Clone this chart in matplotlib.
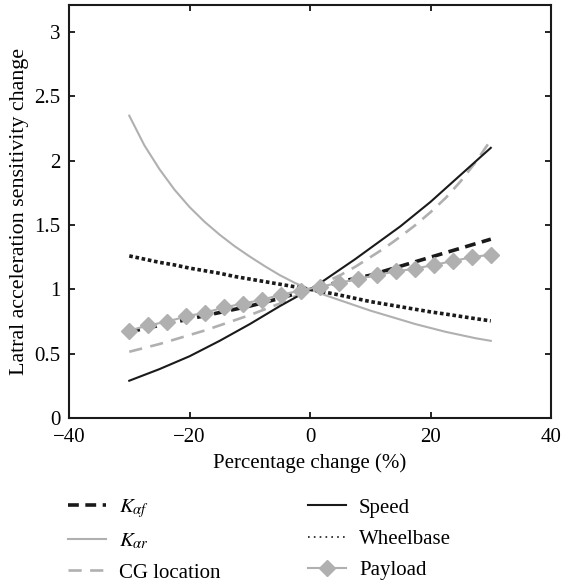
import matplotlib
matplotlib.use("Agg")
import matplotlib.pyplot as plt
from matplotlib.ticker import MultipleLocator, FuncFormatter
from matplotlib.lines import Line2D

plt.rcParams['font.family'] = ['Liberation Serif', 'DejaVu Serif']
plt.rcParams['mathtext.fontset'] = 'stix'
plt.rcParams['font.size'] = 15

# data
pct = [-30, -27.5, -25, -22.5, -20, -17.5, -15, -12.5, -10, -7.5, -5, -2.5, 0,
       2.5, 5, 7.5, 10, 12.5, 15, 17.5, 20, 22.5, 25, 27.5, 30]
k_af = [0.67, 0.695, 0.72, 0.745, 0.77, 0.795, 0.82, 0.845, 0.87, 0.90, 0.93, 0.965, 1.0,
        1.03, 1.06, 1.085, 1.11, 1.145, 1.18, 1.215, 1.25, 1.285, 1.32, 1.355, 1.39]
k_ar = [2.35, 2.12, 1.935, 1.775, 1.64, 1.525, 1.425, 1.335, 1.255, 1.18, 1.11, 1.05, 1.0,
        0.955, 0.915, 0.875, 0.835, 0.80, 0.765, 0.73, 0.70, 0.67, 0.645, 0.62, 0.60]
cg_loc = [0.515, 0.545, 0.575, 0.61, 0.645, 0.68, 0.72, 0.76, 0.80, 0.845, 0.89, 0.945, 1.0,
          1.055, 1.11, 1.175, 1.25, 1.325, 1.41, 1.50, 1.60, 1.71, 1.84, 1.99, 2.16]
speed = [0.29, 0.335, 0.38, 0.43, 0.48, 0.54, 0.60, 0.665, 0.73, 0.80, 0.87, 0.935, 1.0,
         1.075, 1.155, 1.235, 1.32, 1.405, 1.49, 1.585, 1.68, 1.785, 1.89, 1.995, 2.10]
wheelbase = [1.26, 1.235, 1.21, 1.19, 1.165, 1.145, 1.125, 1.10, 1.08, 1.06, 1.04, 1.02, 1.0,
             0.978, 0.955, 0.93, 0.905, 0.885, 0.865, 0.845, 0.825, 0.808, 0.79, 0.772, 0.755]

pct_payload = [-30, -26.84, -23.68, -20.53, -17.37, -14.21, -11.05, -7.89, -4.74, -1.58,
               1.58, 4.74, 7.89, 11.05, 14.21, 17.37, 20.53, 23.68, 26.84, 30]
payload = [0.68, 0.72, 0.75, 0.79, 0.82, 0.86, 0.89, 0.92, 0.96, 0.99,
           1.02, 1.05, 1.08, 1.11, 1.14, 1.16, 1.19, 1.22, 1.25, 1.27]

gray = '#b0b0b0'
black = '#1a1a1a'

fig = plt.figure(figsize=(5.62, 5.84), dpi=100)
ax = fig.add_axes([0.1228, 0.2842, 0.8577, 0.7072])

ax.plot(pct, k_af, color=black, lw=2.6, ls=(0, (3.0, 1.8)), label=r'$K_{\alpha f}$')
ax.plot(pct, k_ar, color=gray, lw=1.5, label=r'$K_{\alpha r}$')
ax.plot(pct, cg_loc, color=gray, lw=1.9, ls=(0, (5, 3.2)), label='CG location')
ax.plot(pct, speed, color=black, lw=1.5, label='Speed')
ax.plot(pct, wheelbase, color=black, lw=2.6, ls=(0, (1, 0.75)), label='Wheelbase')
ax.plot(pct_payload, payload, color=gray, lw=1.5, marker='D', ms=8, mec=gray, mfc=gray,
        label='Payload')

ax.set_xlim(-40, 40)
ax.set_ylim(0, 3.21)
ax.xaxis.set_major_locator(MultipleLocator(20))
ax.yaxis.set_major_locator(MultipleLocator(0.5))
ax.yaxis.set_major_formatter(FuncFormatter(lambda v, p: '%g' % v))
ax.xaxis.set_major_formatter(FuncFormatter(lambda v, p: ('%g' % v).replace('-', '\u2212')))
ax.tick_params(direction='in', top=True, right=True, length=4, width=1.2, labelsize=15)
ax.tick_params(axis='y', pad=6)
ax.tick_params(axis='x', pad=7)
for s in ax.spines.values():
    s.set_linewidth(1.5)
    s.set_color(black)

ax.set_xlabel('Percentage change (%)', fontsize=15, labelpad=5)
ax.set_ylabel('Latral acceleration sensitivity change', fontsize=15.8, labelpad=4)

hand, lab = ax.get_legend_handles_labels()
# wheelbase handle in the legend is a thin dotted line
hand[4] = Line2D([], [], color=black, lw=1.2, ls=(0, (1, 2.5)))
lgd = fig.legend(hand, lab, loc='upper left', bbox_to_anchor=(0.121, 0.148), ncol=2,
                 frameon=False, fontsize=15, handlelength=1.8, handletextpad=0.65,
                 columnspacing=4.2, labelspacing=0.55, borderpad=0, borderaxespad=0)

plt.savefig('out.png', dpi=100)
